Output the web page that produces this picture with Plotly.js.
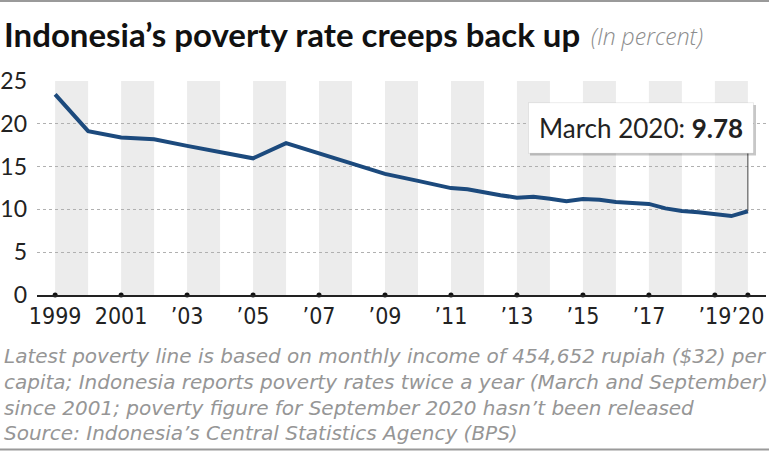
<!DOCTYPE html>
<html>
<head>
<meta charset="utf-8">
<script src="https://cdn.plot.ly/plotly-3.0.1.min.js"></script>
<style>
  html, body { margin: 0; padding: 0; background: #fff; }
  #chart { width: 769px; height: 451px; }
</style>
</head>
<body>
<div id="chart"></div>
<script>
// ---- Data (poverty rate, %; .5 = September reading) ----
const years = [1999, 2000, 2001, 2002, 2003, 2004, 2005, 2006, 2007, 2008, 2009, 2010,
  2011, 2011.5, 2012, 2012.5, 2013, 2013.5, 2014, 2014.5, 2015, 2015.5,
  2016, 2016.5, 2017, 2017.5, 2018, 2018.5, 2019, 2019.5, 2020];
const rates = [23.43, 19.14, 18.41, 18.20, 17.42, 16.66, 15.97, 17.75, 16.58, 15.42, 14.15, 13.33,
  12.49, 12.36, 11.96, 11.66, 11.37, 11.47, 11.25, 10.96, 11.22, 11.13,
  10.86, 10.70, 10.64, 10.12, 9.82, 9.66, 9.41, 9.22, 9.78];
const tickYears = [1999, 2001, 2003, 2005, 2007, 2009, 2011, 2013, 2015, 2017, 2019, 2020];
const tickLabels = ["1999", "2001", "’03", "’05", "’07", "’09", "’11", "’13", "’15", "’17", "’19", "’20"];
const bandStarts = [1999, 2001, 2003, 2005, 2007, 2009, 2011, 2013, 2015, 2017, 2019];
const yTicks = [0, 5, 10, 15, 20, 25];

const titleText = "Indonesia’s poverty rate creeps back up";
const subtitleText = "(In percent)";
const calloutLabel = "March 2020:";
const notes = [
  "Latest poverty line is based on monthly income of 454,652 rupiah ($32) per",
  "capita; Indonesia reports poverty rates twice a year (March and September)",
  "since 2001; poverty figure for September 2020 hasn’t been released",
  "Source: Indonesia’s Central Statistics Agency (BPS)"
];

// ---- Layout geometry ----
const W = 769, H = 451;
const M = { l: 37, r: 3, t: 81, b: 156 };
const PW = W - M.l - M.r, PH = H - M.t - M.b;
const px = x => (x - M.l) / PW;
const py = y => (H - M.b - y) / PH;

const lastX = years[years.length - 1];
const lastY = rates[rates.length - 1];

const shapes = [];
bandStarts.forEach(s => shapes.push({
  type: 'rect', xref: 'x', yref: 'paper', x0: s, x1: s + 1, y0: 0, y1: 1,
  fillcolor: '#ececec', line: { width: 0 }, layer: 'below'
}));
// top / bottom frame lines
shapes.push({ type: 'line', xref: 'paper', yref: 'paper', x0: px(0), x1: px(W), y0: py(1), y1: py(1),
  line: { color: '#9a9a9a', width: 2 } });
shapes.push({ type: 'line', xref: 'paper', yref: 'paper', x0: px(0), x1: px(W), y0: py(449.5), y1: py(449.5),
  line: { color: '#9a9a9a', width: 2 } });
// connector from last point up to the callout
shapes.push({ type: 'line', xref: 'x', yref: 'y', ysizemode: 'pixel', yanchor: lastY,
  x0: lastX, x1: lastX, y0: 0, y1: 58, line: { color: '#444', width: 1 }, layer: 'above' });
// callout shadow + box
shapes.push({ type: 'rect', xref: 'paper', yref: 'paper', x0: px(530), x1: px(756), y0: py(105), y1: py(155.5),
  fillcolor: 'rgba(0,0,0,0.22)', line: { width: 0 }, layer: 'above' });
shapes.push({ type: 'rect', xref: 'paper', yref: 'paper', x0: px(528.5), x1: px(753.5), y0: py(102.7), y1: py(153.3),
  fillcolor: '#ffffff', line: { color: 'rgba(0,0,0,0.08)', width: 1 }, layer: 'above' });

const subFont = { family: 'Open Sans', size: 23, color: '#8c8c8c', style: 'italic', weight: 300 };
const noteFont = { family: 'DejaVu Sans', size: 20, color: '#969696', style: 'italic' };
const annotations = [
  { text: titleText, xref: 'paper', yref: 'paper', x: px(2), y: py(34), xanchor: 'left', yanchor: 'middle',
    showarrow: false, font: { family: 'Lato', size: 33, color: '#111', weight: 700 } },
  { text: subtitleText, xref: 'paper', yref: 'paper', x: px(589), y: py(36), xanchor: 'left', yanchor: 'middle',
    showarrow: false, font: subFont },
  { text: calloutLabel + ' <b>' + lastY.toFixed(2) + '</b>', xref: 'paper', yref: 'paper', x: px(641), y: py(128),
    xanchor: 'center', yanchor: 'middle', showarrow: false,
    font: { family: 'Lato', size: 26, color: '#222' } }
];
const noteY = [356, 382, 408, 433];
notes.forEach((t, i) => annotations.push({
  text: t, xref: 'paper', yref: 'paper', x: px(2), y: py(noteY[i]), xanchor: 'left', yanchor: 'middle',
  showarrow: false, font: noteFont
}));

const traces = [
  { x: years, y: rates, type: 'scatter', mode: 'lines',
    line: { color: '#1c4a7d', width: 4, shape: 'linear' }, hoverinfo: 'skip' },
  { x: tickYears, y: tickYears.map(() => 0), type: 'scatter', mode: 'markers',
    marker: { color: '#111', size: 5 }, cliponaxis: false, hoverinfo: 'skip' }
];

const layout = {
  width: W, height: H,
  margin: M,
  paper_bgcolor: '#fff', plot_bgcolor: 'rgba(0,0,0,0)',
  showlegend: false,
  xaxis: {
    range: [1998.45, 2020.55], tickvals: tickYears, ticktext: tickLabels,
    showgrid: false, zeroline: false, showline: true, linecolor: '#222', linewidth: 1.5,
    ticks: '', ticklabelstandoff: 0, tickangle: 0, ticklabeloverflow: 'allow',
    tickfont: { family: 'DejaVu Sans Condensed, sans-serif', size: 23, color: '#222' },
    fixedrange: true
  },
  yaxis: {
    range: [0, 25], tickvals: yTicks, showgrid: true, gridcolor: '#b0b0b0', griddash: 'dot', gridwidth: 1,
    zeroline: false, showline: false, ticks: '', ticklabelstandoff: 9,
    tickfont: { family: 'Lato', size: 23, color: '#222' }, fixedrange: true
  },
  shapes: shapes,
  annotations: annotations
};

Plotly.newPlot('chart', traces, layout, { displayModeBar: false, staticPlot: true });
</script>
</body>
</html>
